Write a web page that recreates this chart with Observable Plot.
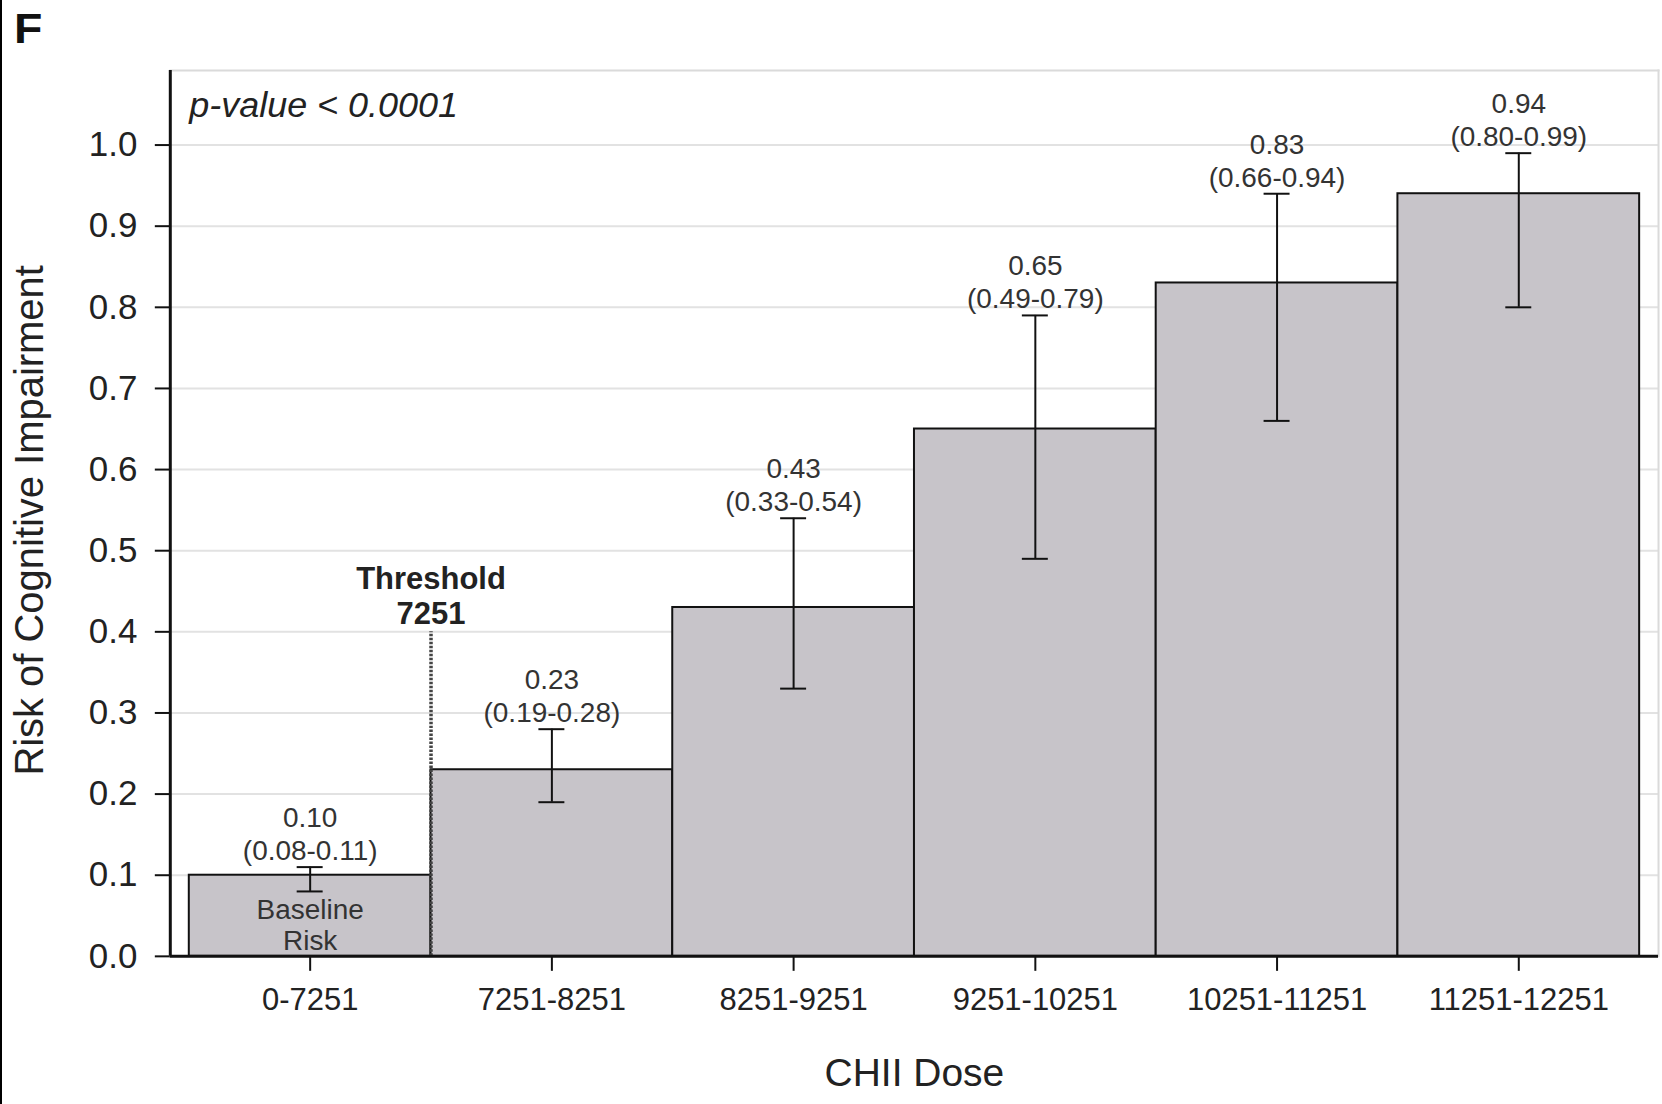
<!DOCTYPE html>
<html>
<head>
<meta charset="utf-8">
<script src="https://cdn.jsdelivr.net/npm/d3@7"></script>
<script src="https://cdn.jsdelivr.net/npm/@observablehq/plot@0.6"></script>
<style>
  html, body { margin: 0; padding: 0; background: #fff; }
  #wrap { position: relative; width: 1662px; height: 1104px; overflow: hidden; box-sizing: border-box; border-left: 2px solid #000; }
  #panel { position: absolute; left: 12px; top: 7px; z-index: 2; font: bold 43px/1 "Liberation Sans", Arial, sans-serif; color: #111; transform: scaleX(1.08); transform-origin: left top; }
  #chart { position: absolute; left: -2px; top: 0; z-index: 1; }
</style>
</head>
<body>
<div id="wrap">
  <div id="panel">F</div>
  <div id="chart"></div>
</div>
<script>
// ---- data ----
const categories = ["0-7251", "7251-8251", "8251-9251", "9251-10251", "10251-11251", "11251-12251"];
const risk  = [0.10, 0.23, 0.43, 0.65, 0.83, 0.94];
const lower = [0.08, 0.19, 0.33, 0.49, 0.66, 0.80];
const upper = [0.11, 0.28, 0.54, 0.79, 0.94, 0.99];
const yTicks = [0.0, 0.1, 0.2, 0.3, 0.4, 0.5, 0.6, 0.7, 0.8, 0.9, 1.0];
const pValueText = "p-value < 0.0001";
const thresholdLabel = "Threshold\n7251";
const thresholdIndex = 1;      // boundary between 1st and 2nd dose bin
const thresholdTop = 0.40;     // height of the dotted threshold line
const baselineLabel = "Baseline\nRisk";

const data = categories.map((c, i) => ({
  i, cat: c, risk: risk[i], lo: lower[i], hi: upper[i],
  label: risk[i].toFixed(2) + "\n(" + lower[i].toFixed(2) + "-" + upper[i].toFixed(2) + ")"
}));

const font = "'Liberation Sans', Arial, sans-serif";

const chart = Plot.plot({
  width: 1664,
  height: 1104,
  marginLeft: 170,
  marginRight: 4,
  marginTop: 70,
  marginBottom: 147,
  style: { fontFamily: font, background: "#fff", color: "#222" },
  x: { domain: [-0.0786, 6.078], axis: null },
  y: { domain: [0, 1.092], axis: null },
  marks: [
    Plot.gridY(yTicks, { stroke: "#e2e2e2", strokeOpacity: 1, strokeWidth: 2 }),
    Plot.frame({ anchor: "top", stroke: "#dadada", strokeWidth: 2 }),
    Plot.frame({ anchor: "right", stroke: "#dadada", strokeWidth: 2 }),
    Plot.rectY(data, { x1: "i", x2: d => d.i + 1, y: "risk", fill: "#c7c4c9", stroke: "#111", strokeWidth: 2 }),
    Plot.ruleX([thresholdIndex], { y1: 0, y2: thresholdTop, stroke: "#444", strokeWidth: 3.5, strokeDasharray: "2.5,1.5" }),
    Plot.ruleX(data, { x: d => d.i + 0.5, y1: "lo", y2: "hi", stroke: "#111", strokeWidth: 2 }),
    Plot.ruleY(data, { x1: d => d.i + 0.5, x2: d => d.i + 0.5, y: "hi", insetLeft: -13, insetRight: -13, stroke: "#111", strokeWidth: 2 }),
    Plot.ruleY(data, { x1: d => d.i + 0.5, x2: d => d.i + 0.5, y: "lo", insetLeft: -13, insetRight: -13, stroke: "#111", strokeWidth: 2 }),
    Plot.text(data, { x: d => d.i + 0.5, y: "hi", text: "label", lineAnchor: "bottom", dy: -7, fontSize: 28, lineHeight: 1.18, fill: "#333" }),
    Plot.text([baselineLabel], { x: 0.5, y: 0, text: d => d, lineAnchor: "bottom", dy: -6, fontSize: 28, lineHeight: 1.12, fill: "#333" }),
    Plot.text([thresholdLabel], { x: thresholdIndex, y: thresholdTop, text: d => d, lineAnchor: "bottom", dy: -8, fontSize: 31, fontWeight: "bold", lineHeight: 1.13, fill: "#222" }),
    Plot.text([pValueText], { frameAnchor: "top-left", text: d => d, dx: 19, dy: 21, lineAnchor: "top", textAnchor: "start", fontSize: 36, fontStyle: "italic", fill: "#222" }),
    Plot.axisY(yTicks, { anchor: "left", tickFormat: d => d.toFixed(1), tickSize: 15, tickPadding: 18, fontSize: 35, stroke: "#111", strokeWidth: 2, fill: "#222", label: "Risk of Cognitive Impairment", labelArrow: "none", labelAnchor: "center", labelOffset: 156 }),
    Plot.axisX(categories.map((c, i) => i + 0.5), { anchor: "bottom", tickFormat: d => categories[Math.round(d - 0.5)], tickSize: 15, tickPadding: 17, fontSize: 31, stroke: "#111", strokeWidth: 2, fill: "#222", label: "CHII Dose", labelArrow: "none", labelAnchor: "center", labelOffset: 130 }),
    Plot.ruleX([-0.0786], { stroke: "#111", strokeWidth: 3 }),
    Plot.ruleY([0], { stroke: "#111", strokeWidth: 3 })
  ]
});

chart.querySelectorAll("g[aria-label='y-axis label']").forEach(g => {
  const tr = g.getAttribute("transform") || "";
  g.setAttribute("transform", (tr + " translate(0,7)").trim());
  g.querySelectorAll("text").forEach(t => t.setAttribute("font-size", 40));
});
chart.querySelectorAll("g[aria-label='x-axis label'] text").forEach(t => t.setAttribute("font-size", 39));
document.getElementById("chart").appendChild(chart);
</script>
</body>
</html>
